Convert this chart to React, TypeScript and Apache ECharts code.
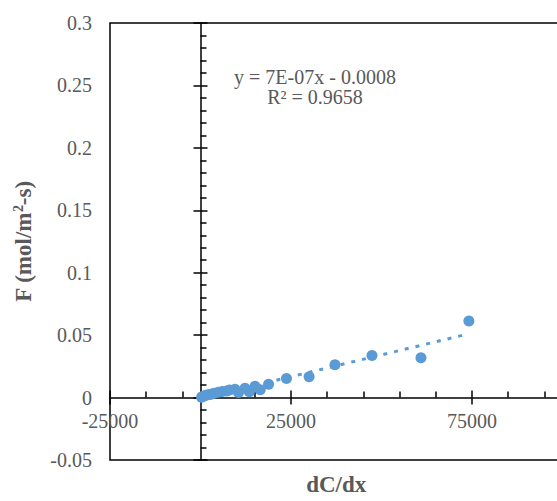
import React, { useEffect, useRef } from "react";
import * as echarts from "echarts";

const xValues = [300, 500, 1240, 1800, 2500, 3100, 3800, 4920, 6000, 7230, 8000, 9530, 10500, 12290, 13500, 15060, 16500, 18800, 23750, 30000, 37150, 47370, 60900, 74140];
const yValues = [0.0002, 0.0006, 0.0016, 0.0020, 0.0025, 0.0029, 0.0035, 0.0043, 0.0048, 0.0053, 0.0060, 0.0067, 0.0040, 0.0074, 0.0047, 0.0090, 0.0062, 0.0106, 0.0153, 0.0166, 0.0263, 0.0337, 0.0319, 0.0613];
const trendSlope = 7e-7;
const trendIntercept = -0.0008;
const equationLines = ["y = 7E-07x - 0.0008", "R² = 0.9658"];
const xAxisTitle = "dC/dx";
const yAxisTitle = "F (mol/m{sup|2}-s)";

const FONT = "Liberation Serif";
const TEXT = "#595959";
const BLUE = "#5B9BD5";
const CHART_W = 570;
const CHART_H = 501;
const GRID_TOP = 23;
const GRID_BOTTOM = 35;

export default function App() {
  const ref = useRef<HTMLDivElement>(null);
  useEffect(() => {
    if (!ref.current) return;
    const chart = echarts.init(ref.current, undefined, { renderer: "svg" });
    const xMin = Math.min(...xValues);
    const xMax = Math.max(...xValues);
    const black = { color: "#000", width: 1.5 };
    const yMin = -0.05;
    const yMax = 0.3;
    const gridH = CHART_H - GRID_TOP - GRID_BOTTOM;
    // distance from grid bottom to the y = 0 line
    const zeroOffset = (gridH * (0 - yMin)) / (yMax - yMin);
    const xBase = { type: "value", min: -25000, max: 100000, interval: 50000, position: "bottom", splitLine: { show: false } };
    const yBase = { type: "value", min: yMin, max: yMax, interval: 0.05, position: "left", splitLine: { show: false } };
    const option: any = {
      animation: false,
      backgroundColor: "#fff",
      grid: { left: 110, top: GRID_TOP, right: 7.5, bottom: GRID_BOTTOM, show: true, borderColor: "#000", borderWidth: 1.5, containLabel: false },
      xAxis: [
        {
          ...xBase,
          axisLine: { show: true, onZero: true, onZeroAxisIndex: 0, lineStyle: black },
          axisTick: { show: true, inside: true, length: 7, lineStyle: black },
          minorTick: { show: true, splitNumber: 5, length: 6, lineStyle: black },
          axisLabel: { show: false },
        },
        {
          ...xBase,
          axisLine: { show: false, onZero: true, onZeroAxisIndex: 0 },
          axisTick: { show: true, inside: false, length: 7, lineStyle: black },
          axisLabel: { show: false },
        },
        {
          ...xBase,
          offset: -zeroOffset,
          axisLine: { show: false, onZero: false },
          axisTick: { show: false },
          axisLabel: { show: true, showMaxLabel: false, margin: 14, color: TEXT, fontFamily: FONT, fontSize: 20, formatter: (v: number) => String(v) },
        },
        {
          ...xBase,
          axisLine: { show: false, onZero: false },
          axisTick: { show: false },
          axisLabel: { show: false },
          name: xAxisTitle,
          nameLocation: "middle",
          nameGap: 13,
          nameTextStyle: { fontFamily: FONT, fontSize: 23, fontWeight: "bold", color: TEXT },
        },
      ],
      yAxis: [
        {
          ...yBase,
          axisLine: { show: true, onZero: true, onZeroAxisIndex: 0, lineStyle: black },
          axisTick: { show: true, inside: true, length: 7, lineStyle: black },
          minorTick: { show: true, splitNumber: 5, length: 6, lineStyle: black },
          axisLabel: { show: false },
        },
        {
          ...yBase,
          axisLine: { show: false, onZero: true, onZeroAxisIndex: 0 },
          axisTick: { show: true, inside: false, length: 7, lineStyle: black },
          axisLabel: { show: false },
        },
        {
          ...yBase,
          axisLine: { show: false, onZero: false },
          axisTick: { show: false },
          axisLabel: { show: true, margin: 18, color: TEXT, fontFamily: FONT, fontSize: 20 },
          name: yAxisTitle,
          nameLocation: "middle",
          nameRotate: 90,
          nameGap: 75,
          nameTextStyle: {
            fontFamily: FONT, fontSize: 23, fontWeight: "bold", color: TEXT,
            rich: { sup: { fontFamily: FONT, fontSize: 14, fontWeight: "bold", color: TEXT, verticalAlign: "top", padding: [0, 0, 10, 0] } },
          },
        },
      ],
      graphic: [
        {
          type: "text",
          x: 315,
          y: 67,
          style: { text: equationLines.join("\n"), align: "center", fontFamily: FONT, fontSize: 20, lineHeight: 20, fill: TEXT },
        },
      ],
      series: [
        {
          type: "line",
          xAxisIndex: 0,
          yAxisIndex: 0,
          data: [[xMin, trendSlope * xMin + trendIntercept], [xMax, trendSlope * xMax + trendIntercept]],
          showSymbol: false,
          symbol: "none",
          lineStyle: { color: BLUE, width: 3, type: [4, 7] },
          z: 2,
        },
        {
          type: "scatter",
          xAxisIndex: 0,
          yAxisIndex: 0,
          data: xValues.map((x, i) => [x, yValues[i]]),
          symbolSize: 11,
          itemStyle: { color: BLUE, opacity: 1 },
          z: 3,
        },
      ],
    };
    chart.setOption(option);
    return () => chart.dispose();
  }, []);
  return (
    <div style={{ position: "absolute", left: 0, top: 0, width: 557, height: 501, overflow: "hidden" }}>
      <div ref={ref} style={{ width: CHART_W, height: CHART_H }} />
    </div>
  );
}
